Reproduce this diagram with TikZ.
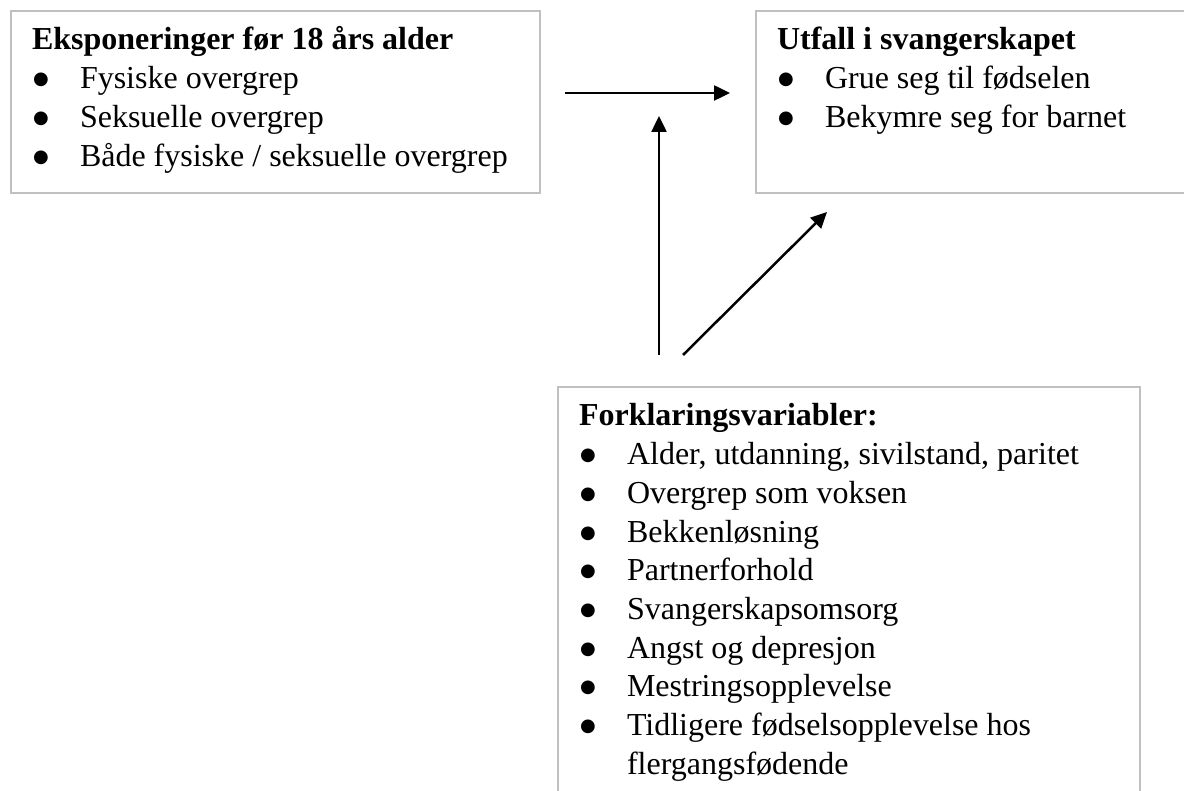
\documentclass[tikz,border=0pt]{standalone}
\usepackage{fontspec}
\setmainfont{Liberation Serif}
\newfontfamily\symfont{DejaVu Sans}
\usetikzlibrary{arrows.meta}
\definecolor{boxgray}{RGB}{192,192,192}
\newcommand{\bul}{\makebox[48pt][l]{\hspace*{1pt}\raisebox{4pt}{\fontsize{18}{18}\symfont ●}}}
\newcommand{\boxtext}[3]{\begin{minipage}[t][#1][t]{#2}\setlength{\parindent}{0pt}\fontsize{32}{38.7}\selectfont\raggedright\rule{0pt}{39pt}#3\end{minipage}}
\begin{document}
\begin{tikzpicture}[x=1pt,y=-1pt,
  box/.style={draw=boxgray, line width=2pt, anchor=north west, inner xsep=21pt, inner ysep=0pt},
  arr/.style={line width=2.5pt, -{Triangle[length=16pt,width=15pt]}}]
\clip (0,0) rectangle (1184,791);
\node[box] (expo) at (10,10) {\boxtext{182pt}{487pt}{\textbf{Eksponeringer før 18 års alder}\\
\bul Fysiske overgrep\\
\bul Seksuelle overgrep\\
\bul Både fysiske / seksuelle overgrep}};
\node[box] (utfall) at (755,10) {\boxtext{182pt}{420pt}{\textbf{Utfall i svangerskapet}\\
\bul Grue seg til fødselen\\
\bul Bekymre seg for barnet}};
\node[box] (forkl) at (557,386) {\boxtext{444pt}{540pt}{\textbf{Forklaringsvariabler:}\\
\bul Alder, utdanning, sivilstand, paritet\\
\bul Overgrep som voksen\\
\bul Bekkenløsning\\
\bul Partnerforhold\\
\bul Svangerskapsomsorg\\
\bul Angst og depresjon\\
\bul Mestringsopplevelse\\
\bul Tidligere fødselsopplevelse hos\\
\hspace*{48pt}flergangsfødende}};
\coordinate (vtail) at (659,355);
\coordinate (vtip) at (659,116);
\coordinate (dtail) at (683,355);
\coordinate (dtip) at (827,212);
\draw[arr, shorten <=24pt, shorten >=25pt] ([yshift=9pt]expo.east) -- ([yshift=9pt]utfall.west);
\draw[arr] (vtail) -- (vtip);
\draw[arr] (dtail) -- (dtip);
\end{tikzpicture}
\end{document}
